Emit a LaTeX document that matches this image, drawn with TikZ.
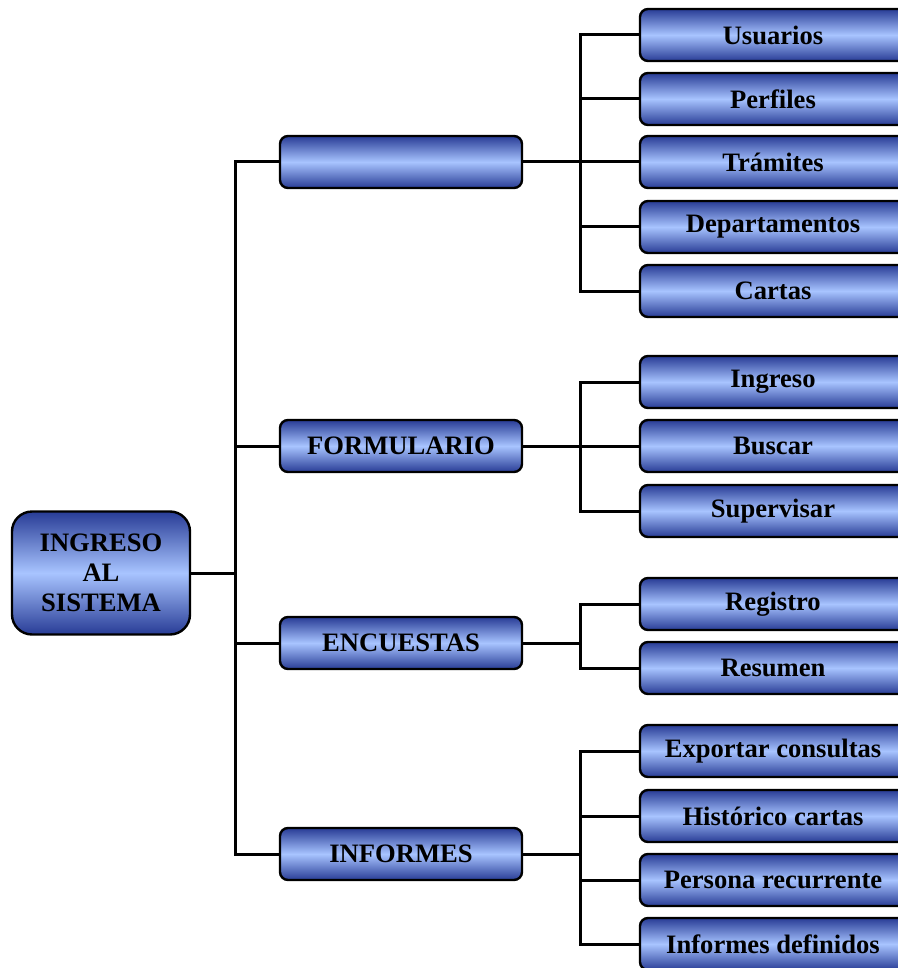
\documentclass[tikz,border=0pt]{standalone}
\usepackage{fontspec}
\setmainfont{Liberation Serif}
\usetikzlibrary{calc,positioning}

\definecolor{boxdark}{RGB}{40,60,150}
\definecolor{boxlight}{RGB}{168,196,255}

\tikzset{
    menubox/.style={draw=black, line width=1.2pt, rounded corners=4pt,
        top color=boxdark, bottom color=boxdark, middle color=boxlight,
        minimum height=26pt, inner sep=0pt,
        font=\fontsize{13.3}{15}\selectfont\bfseries},
    midbox/.style={menubox, minimum width=121pt},
    leafbox/.style={menubox, minimum width=133pt},
    rootbox/.style={menubox, rounded corners=10pt, minimum width=89pt,
        minimum height=61.5pt, align=center},
    branch/.style={line width=1.5pt}
}

\begin{document}
\begin{tikzpicture}[x=0.5pt, y=-0.5pt]
    \useasboundingbox (0,0) rectangle (898,968);
    \clip (0,0) rectangle (898,968);

    % trunk positions
    \coordinate (t) at (235,0);
    \coordinate (s) at (580,0);

    \node[rootbox] (root) at (101,573) {INGRESO\\AL\\SISTEMA};

    \node[midbox] (m1) at (401,162) {};
    \node[midbox] (m2) at (401,446) {FORMULARIO};
    \node[midbox] (m3) at (401,643) {ENCUESTAS};
    \node[midbox] (m4) at (401,854) {INFORMES};

    \node[leafbox] (u)  at (773,35)  {Usuarios};
    \node[leafbox] (p)  at (773,99)  {Perfiles};
    \node[leafbox] (tr) at (773,162) {Trámites};
    \node[leafbox] (d)  at (773,227) {Departamentos};
    \node[leafbox] (c)  at (773,291) {Cartas};

    \node[leafbox] (ing) at (773,382) {Ingreso};
    \node[leafbox] (bus) at (773,446) {Buscar};
    \node[leafbox] (sup) at (773,511) {Supervisar};

    \node[leafbox] (reg) at (773,604) {Registro};
    \node[leafbox] (res) at (773,668) {Resumen};

    \node[leafbox] (exp) at (773,751) {Exportar consultas};
    \node[leafbox] (his) at (773,816) {Histórico cartas};
    \node[leafbox] (per) at (773,880) {Persona recurrente};
    \node[leafbox] (inf) at (773,944) {Informes definidos};

    % root to modules
    \foreach \m in {m1,m2,m3,m4}
        \draw[branch] (root.east) -- (root.east -| t) |- (\m.west);

    % modules to options
    \foreach \l in {u,p,tr,d,c}
        \draw[branch] (m1.east) -- (m1.east -| s) |- (\l.west);
    \foreach \l in {ing,bus,sup}
        \draw[branch] (m2.east) -- (m2.east -| s) |- (\l.west);
    \foreach \l in {reg,res}
        \draw[branch] (m3.east) -- (m3.east -| s) |- (\l.west);
    \foreach \l in {exp,his,per,inf}
        \draw[branch] (m4.east) -- (m4.east -| s) |- (\l.west);
\end{tikzpicture}
\end{document}
